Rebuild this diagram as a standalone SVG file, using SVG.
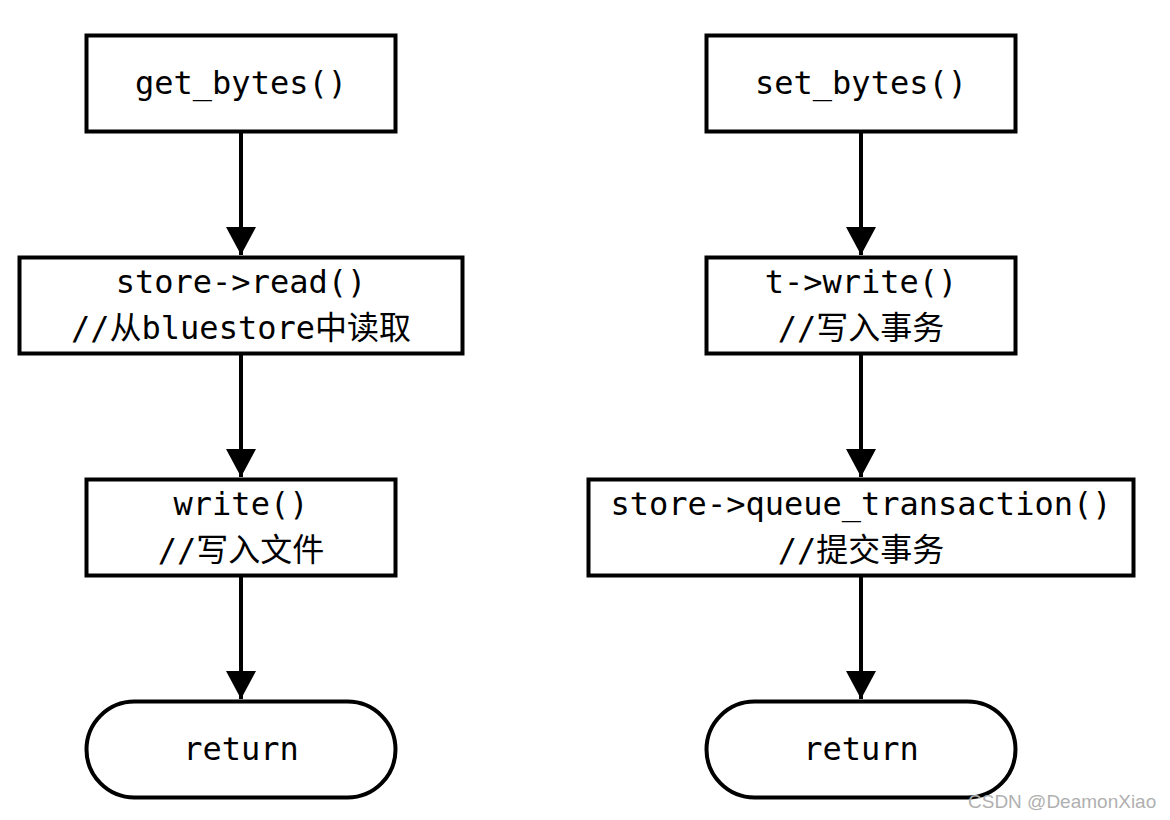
<svg xmlns="http://www.w3.org/2000/svg" width="1170" height="820" viewBox="0 0 1170 820">
<style>
.box{fill:#fff;stroke:#000;stroke-width:4}
.t{font-family:"DejaVu Sans Mono","Noto Sans CJK SC",monospace;font-size:32px;fill:#000;text-anchor:middle}
.ln{stroke:#000;stroke-width:4;fill:none}
.wm{font-family:"Liberation Sans","Noto Sans CJK SC",sans-serif;font-size:19px;fill:#b0b0b0}
</style>
<defs>
<marker id="ah" markerWidth="7" markerHeight="7.5" refX="7" refY="3.75" orient="auto" markerUnits="strokeWidth">
<path d="M0,0 L7,3.75 L0,7.5 z" fill="#000"/>
</marker>
</defs>
<rect width="1170" height="820" fill="#fff"/>
<g id="connectors">
<line class="ln" x1="241" y1="131" x2="241" y2="255" marker-end="url(#ah)"/>
<line class="ln" x1="241" y1="353" x2="241" y2="477" marker-end="url(#ah)"/>
<line class="ln" x1="241" y1="575" x2="241" y2="699" marker-end="url(#ah)"/>
<line class="ln" x1="861" y1="131" x2="861" y2="255" marker-end="url(#ah)"/>
<line class="ln" x1="861" y1="353" x2="861" y2="477" marker-end="url(#ah)"/>
<line class="ln" x1="861" y1="575" x2="861" y2="699" marker-end="url(#ah)"/>
</g>
<g id="get_bytes">
<rect class="box" x="86.5" y="35.5" width="309" height="96"/>
<text class="t" x="241" y="94">get_bytes()</text>
</g>
<g id="store_read">
<rect class="box" x="19.5" y="257.5" width="443" height="96"/>
<text class="t" x="241" y="293">store-&gt;read()</text>
<text class="t" x="241" y="339">//从bluestore中读取</text>
</g>
<g id="write">
<rect class="box" x="86.5" y="479.5" width="309" height="96"/>
<text class="t" x="241" y="515">write()</text>
<text class="t" x="241" y="561">//写入文件</text>
</g>
<g id="return_left">
<rect class="box" x="86.5" y="701.5" width="309" height="96" rx="48" ry="48"/>
<text class="t" x="241" y="760">return</text>
</g>
<g id="set_bytes">
<rect class="box" x="706.5" y="35.5" width="309" height="96"/>
<text class="t" x="861" y="94">set_bytes()</text>
</g>
<g id="t_write">
<rect class="box" x="706.5" y="257.5" width="309" height="96"/>
<text class="t" x="861" y="293">t-&gt;write()</text>
<text class="t" x="861" y="339">//写入事务</text>
</g>
<g id="queue_transaction">
<rect class="box" x="588.5" y="479.5" width="545" height="96"/>
<text class="t" x="861" y="515">store-&gt;queue_transaction()</text>
<text class="t" x="861" y="561">//提交事务</text>
</g>
<g id="return_right">
<rect class="box" x="706.5" y="701.5" width="309" height="96" rx="48" ry="48"/>
<text class="t" x="861" y="760">return</text>
</g>
<text class="wm" x="968" y="808">CSDN @DeamonXiao</text>
</svg>
